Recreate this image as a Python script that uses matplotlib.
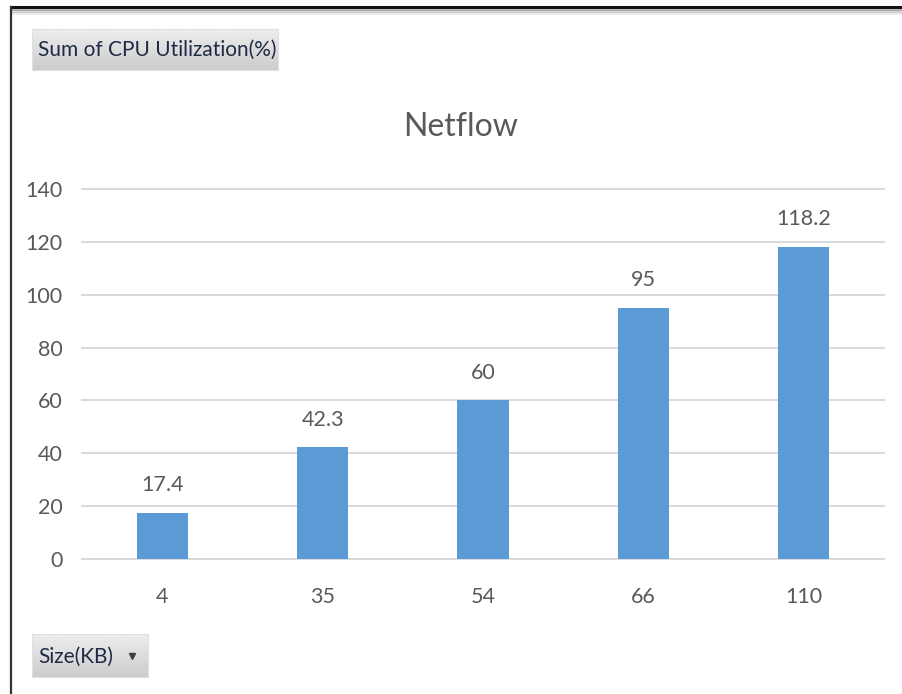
import numpy as np
import matplotlib.pyplot as plt
from matplotlib.lines import Line2D

sizes = ['4', '35', '54', '66', '110']
cpu_util = [17.4, 42.3, 60, 95, 118.2]
value_labels = ['17.4', '42.3', '60', '95', '118.2']
y_ticks = [0, 20, 40, 60, 80, 100, 120, 140]

W, H = 902, 694
fig = plt.figure(figsize=(W / 100, H / 100), dpi=100)
fig.patch.set_facecolor('white')

txt = '#595959'
font = ['Lato', 'DejaVu Sans']

# chart area
ax = fig.add_axes([82 / W, 1 - 559 / H, (884 - 82) / W, (559 - 189) / H])
x = np.arange(len(sizes))
bars = ax.bar(x, cpu_util, width=0.32, color='#5B9BD5', zorder=3)
for xi, v, lab in zip(x, cpu_util, value_labels):
    ax.annotate(lab, (xi, v), xytext=(0, 15.5), textcoords='offset points',
                ha='center', va='baseline', fontsize=15.5, color=txt, family=font)

ax.set_xlim(-0.5, 4.5)
ax.set_ylim(0, 140)
ax.set_yticks(y_ticks)
ax.set_xticks(x)
ax.set_xticklabels(sizes)
ax.grid(axis='y', color='#D9D9D9', linewidth=1.4, zorder=0)
for gl in ax.get_ygridlines():
    gl.set_clip_on(False)
for s in ax.spines.values():
    s.set_visible(False)
ax.tick_params(length=0, labelsize=15.5, labelcolor=txt, pad=14)
ax.tick_params(axis='x', pad=20)
for t in ax.get_xticklabels() + ax.get_yticklabels():
    t.set_family(font)

fig.text(461 / W, 1 - 127 / H, 'Netflow', ha='center', va='center',
         fontsize=23, color=txt, family=font)


# grey field buttons of the pivot chart
def field_button(x0, y0, x1, y1, label):
    bax = fig.add_axes([x0 / W, 1 - y1 / H, (x1 - x0) / W, (y1 - y0) / H])
    grad = np.linspace(0.93, 0.80, 50).reshape(-1, 1)
    bax.imshow(grad, cmap='gray', vmin=0, vmax=1, aspect='auto',
               extent=[0, 1, 0, 1], origin='upper')
    bax.set_xticks([])
    bax.set_yticks([])
    for s in bax.spines.values():
        s.set_color('#E0E0E0')
        s.set_linewidth(0.8)
    bax.text(6 / (x1 - x0), 0.48, label, ha='left', va='center', fontsize=15,
             color='#1F2A44', family=font, transform=bax.transAxes)
    return bax


field_button(32, 29, 278, 70, 'Sum of CPU Utilization(%)')
b2 = field_button(32, 634, 148, 677, 'Size(KB)')
b2.plot([0.86], [0.5], marker='v', color='#404040', markersize=5,
        transform=b2.transAxes)

# outer frame with a soft shadow under the top edge
for i, a in enumerate([0.25, 0.15, 0.08]):
    fig.add_artist(Line2D([12 / W, 1], [1 - (9 + i * 2) / H] * 2,
                          color='black', alpha=a, linewidth=2))
fig.add_artist(Line2D([11 / W, 1], [1 - 7 / H] * 2, color='#111111', linewidth=2.2))
fig.add_artist(Line2D([11 / W] * 2, [0, 1 - 7 / H], color='#333333', linewidth=1.6))

fig.savefig('out.png', dpi=100)
